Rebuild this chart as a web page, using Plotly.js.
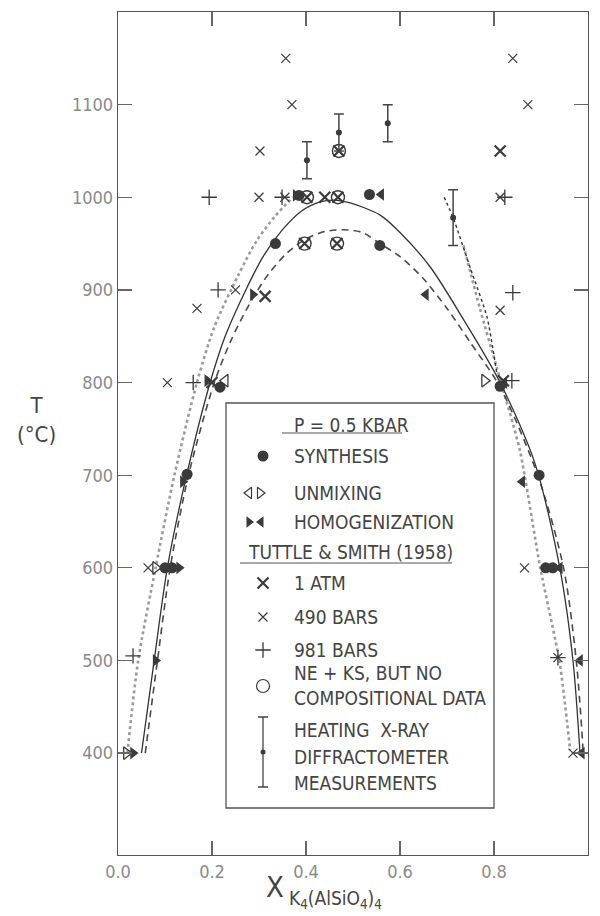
<!DOCTYPE html>
<html>
<head>
<meta charset="utf-8">
<script src="https://cdn.plot.ly/plotly-3.0.1.min.js"></script>
<style>html,body{margin:0;padding:0;background:#fff;}#chart{width:600px;height:916px;}</style>
</head>
<body>
<div id="chart"></div>
<script>
// ---------- DATA ----------
// Phase boundary curves
const solidX = [0.05,0.077,0.105,0.146,0.196,0.228,0.272,0.31,0.35,0.39,0.43,0.46,0.494,0.557,0.60,0.664,0.734,0.813,0.887,0.94,0.968,0.983];
const solidT = [400,500,600,700,800,850,900,937,965,985,995,997,994,981,962,925,869,800,713,600,500,400];
const dashX = [0.058,0.084,0.111,0.15,0.205,0.24,0.28,0.32,0.36,0.40,0.44,0.48,0.52,0.557,0.60,0.65,0.70,0.75,0.813,0.893,0.948,0.975,0.99];
const dashT = [400,500,600,700,800,845,885,917,940,955,963,965,962,950,936,912,880,843,795,700,600,500,400];
const dotLeftX = [0.02,0.043,0.08,0.12,0.168,0.205,0.255,0.295,0.335,0.372];
const dotLeftT = [400,500,600,700,800,860,915,953,980,1000];
const dotRightX = [0.735,0.77,0.806,0.855,0.898,0.94,0.962];
const dotRightT = [948,880,816,727,601,497,403];
const thinDotX = [0.694,0.713,0.75,0.785,0.806];
const thinDotT = [1000,978,923,871,810];

// P = 0.5 kbar
const synthX = [0.335,0.385,0.535,0.557,0.217,0.147,0.100,0.115,0.813,0.896,0.910,0.925];
const synthT = [950,1002,1003,948,795,701,600,600,796,700,600,600];
const unmixLeftX = [0.228];
const unmixLeftT = [802];
const unmixRightX = [0.018,0.080,0.780];
const unmixRightT = [400,600,802];
const homRightX = [0.032,0.080,0.130,0.138,0.190,0.287,0.378];
const homRightT = [400,500,600,693,802,895,1002];
const homLeftX = [0.560,0.655,0.822,0.860,0.940,0.983,0.987];
const homLeftT = [1003,895,800,693,600,500,400];

// Tuttle & Smith (1958)
const atm1X = [0.440,0.313,0.200,0.820,0.813,0.470,0.402,0.468,0.397,0.466];
const atm1T = [1000,893,800,802,1050,1050,1000,1000,950,950];
const bar490X = [0.357,0.370,0.302,0.300,0.355,0.840,0.872,0.813,0.813,0.168,0.250,0.105,0.064,0.865,0.936,0.968];
const bar490T = [1150,1100,1050,1000,1000,1150,1100,1000,878,880,900,800,600,600,503,400];
const bar981X = [0.194,0.349,0.823,0.840,0.213,0.160,0.838,0.032,0.936];
const bar981T = [1000,1000,1000,897,900,800,802,505,503];
const neksX = [0.470,0.402,0.468,0.397,0.466];
const neksT = [1050,1000,1000,950,950];

// Heating X-ray diffractometer measurements
const heatX = [0.402,0.470,0.574,0.713];
const heatT = [1040,1070,1080,978];
const heatErr = [20,20,20,30];

// Axis ticks
const xTickVals = [0,0.2,0.4,0.6,0.8,1.0];
const xTickText = ['0.0','0.2','0.4','0.6','0.8','1.0'];
const yTickVals = [400,500,600,700,800,900,1000,1100];
const yTickText = ['400','500','600','700','800','900','1000','1100'];

// ---------- STYLE ----------
const FONT = 'Liberation Sans Narrow, Arial Narrow, DejaVu Sans Condensed, Liberation Sans, sans-serif';
const INK = '#3a3a3a';
const TXT = '#444';

// pixel -> data helpers for legend layout only
const X0 = 118, X1 = 588, Y0 = 12, Y1 = 855, TMIN = 290, TMAX = 1200;
const PX = p => (p - X0) / (X1 - X0);
const PY = p => TMAX - (p - Y0) * (TMAX - TMIN) / (Y1 - Y0);

function line(x, y, opts) {
  return Object.assign({type:'scatter', mode:'lines', x:x, y:y, hoverinfo:'skip', showlegend:false}, opts);
}
function mk(x, y, symbol, size, opts) {
  const m = Object.assign({symbol:symbol, size:size, color:INK, line:{color:INK, width:1.3}}, opts || {});
  return {type:'scatter', mode:'markers', x:x, y:y, marker:m, showlegend:false, cliponaxis:false, hoverinfo:'skip'};
}

const traces = [
  line(dotLeftX, dotLeftT, {line:{color:'#9a9a9a', width:2.6, dash:'dot', shape:'spline', smoothing:0.8}}),
  line(dotRightX, dotRightT, {line:{color:'#9a9a9a', width:2.6, dash:'dot', shape:'spline', smoothing:0.6}}),
  line(thinDotX, thinDotT, {line:{color:'#333', width:1.4, dash:'dot', shape:'spline', smoothing:0.6}}),
  line(dashX, dashT, {line:{color:'#4a4a4a', width:1.6, dash:'7px,5px', shape:'spline', smoothing:0.8}}),
  line(solidX, solidT, {line:{color:'#333', width:1.3, shape:'spline', smoothing:0.8}}),
  mk(neksX, neksT, 'circle-open', 13, {line:{color:INK, width:1.4}}),
  mk(atm1X, atm1T, 'x-thin-open', 11, {line:{color:INK, width:2.2}}),
  mk(bar490X, bar490T, 'x-thin-open', 9, {line:{color:'#555', width:1.2}}),
  mk(bar981X, bar981T, 'cross-thin-open', 11, {line:{color:'#444', width:1.3}}),
  mk(synthX, synthT, 'circle', 11, {line:{width:0}}),
  mk(unmixLeftX, unmixLeftT, 'triangle-left-open', 11, {line:{color:INK, width:1.3}}),
  mk(unmixRightX, unmixRightT, 'triangle-right-open', 11, {line:{color:INK, width:1.3}}),
  mk(homRightX, homRightT, 'triangle-right', 11, {line:{width:0}}),
  mk(homLeftX, homLeftT, 'triangle-left', 11, {line:{width:0}}),
  {type:'scatter', mode:'markers', x:heatX, y:heatT, showlegend:false, hoverinfo:'skip', cliponaxis:false,
   marker:{symbol:'circle', size:6, color:INK},
   error_y:{type:'data', array:heatErr, visible:true, color:'#444', thickness:1.5, width:5}}
];

// ---------- LEGEND (drawn inside the plot) ----------
const legSymX = PX(263);
traces.push(mk([legSymX], [PY(456)], 'circle', 11, {line:{width:0}}));
traces.push(mk([PX(249)], [PY(493)], 'triangle-left-open', 10, {line:{color:INK, width:1.2}}));
traces.push(mk([PX(260)], [PY(493)], 'triangle-right-open', 10, {line:{color:INK, width:1.2}}));
traces.push(mk([PX(249)], [PY(522)], 'triangle-right', 10, {line:{width:0}}));
traces.push(mk([PX(261)], [PY(522)], 'triangle-left', 10, {line:{width:0}}));
traces.push(mk([legSymX], [PY(583)], 'x-thin-open', 11, {line:{color:INK, width:2.2}}));
traces.push(mk([legSymX], [PY(617)], 'x-thin-open', 9, {line:{color:'#555', width:1.2}}));
traces.push(mk([legSymX], [PY(650)], 'cross-thin-open', 11, {line:{color:'#444', width:1.3}}));
traces.push(mk([legSymX], [PY(686)], 'circle-open', 13, {line:{color:INK, width:1.2}}));
traces.push({type:'scatter', mode:'markers', x:[legSymX], y:[PY(752)], showlegend:false, hoverinfo:'skip', cliponaxis:false,
  marker:{symbol:'circle', size:5, color:INK},
  error_y:{type:'data', array:[PY(717) - PY(752)], arrayminus:[PY(752) - PY(787)], visible:true, color:'#444', thickness:1.3, width:5}});

const txtX = PX(292);
function ann(text, py, extra) {
  return Object.assign({x:txtX, y:PY(py), xref:'x', yref:'y', text:text, showarrow:false, xanchor:'left', yanchor:'middle',
    font:{family:FONT, size:19, color:TXT}}, extra || {});
}
const annotations = [
  ann('P = 0.5 KBAR', 425),
  ann('SYNTHESIS', 456),
  ann('UNMIXING', 493),
  ann('HOMOGENIZATION', 522),
  ann('TUTTLE &amp; SMITH (1958)', 552, {x:PX(246)}),
  ann('1 ATM', 583),
  ann('490 BARS', 617),
  ann('981 BARS', 650),
  ann('NE + KS, BUT NO', 673),
  ann('COMPOSITIONAL DATA', 698),
  ann('HEATING  X-RAY', 730),
  ann('DIFFRACTOMETER', 757),
  ann('MEASUREMENTS', 783),
  // axis titles
  {xref:'paper', yref:'paper', x:(264 - X0) / (X1 - X0), y:-(887 - Y1) / (Y1 - Y0), text:'X', showarrow:false,
   xanchor:'left', yanchor:'middle', font:{family:FONT, size:29, color:'#444'}},
  {xref:'paper', yref:'paper', x:(287 - X0) / (X1 - X0), y:-(899 - Y1) / (Y1 - Y0),
   text:'K<sub>4</sub>(AlSiO<sub>4</sub>)<sub>4</sub>', showarrow:false,
   xanchor:'left', yanchor:'middle', font:{family:FONT, size:19, color:'#444'}},
  {xref:'paper', yref:'paper', x:-(X0 - 36) / (X1 - X0), y:(Y1 - 420) / (Y1 - Y0),
   text:'T<br>(°C)', showarrow:false, xanchor:'center', yanchor:'middle', align:'center',
   font:{family:FONT, size:22, color:'#444'}}
];

const shapes = [
  {type:'rect', xref:'x', yref:'y', x0:PX(226), x1:PX(494), y0:PY(808), y1:PY(403), line:{color:'#555', width:1.3}, fillcolor:'rgba(0,0,0,0)'},
  {type:'line', xref:'x', yref:'y', x0:PX(282), x1:PX(402), y0:PY(433), y1:PY(433), line:{color:'#555', width:1.2}},
  {type:'line', xref:'x', yref:'y', x0:PX(240), x1:PX(452), y0:PY(563), y1:PY(563), line:{color:'#555', width:1.2}}
];

const axisCommon = {
  showgrid:false, zeroline:false, showline:true, linecolor:'#555', linewidth:1.3,
  ticks:'inside', ticklen:14, tickwidth:1.2, tickcolor:'#666', mirror:'ticks',
  tickfont:{family:FONT, size:18, color:'#8a8a8a'}
};

const layout = {
  width:600, height:916,
  margin:{l:X0, r:600 - X1, t:Y0, b:916 - Y1},
  paper_bgcolor:'#fff', plot_bgcolor:'#fff',
  showlegend:false,
  xaxis:Object.assign({}, axisCommon, {range:[0,1], tickvals:xTickVals, ticktext:xTickText}),
  yaxis:Object.assign({}, axisCommon, {range:[TMIN,TMAX], tickvals:yTickVals, ticktext:yTickText}),
  annotations:annotations,
  shapes:shapes
};

Plotly.newPlot('chart', traces, layout, {staticPlot:true, displayModeBar:false});
</script>
</body>
</html>
